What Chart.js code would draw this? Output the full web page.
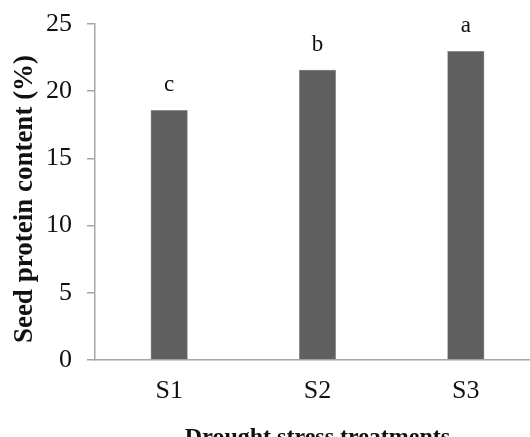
<!DOCTYPE html>
<html>
<head>
<meta charset="utf-8">
<script src="https://cdn.jsdelivr.net/npm/chart.js@4"></script>
<style>
  html, body { margin: 0; padding: 0; background: #fff; overflow: hidden; width: 530px; height: 437px; }
  #wrap { position: absolute; left: 0; top: 0; }
</style>
</head>
<body>
<div id="wrap"><canvas id="c" width="540" height="452"></canvas></div>
<script>
const categories = ["S1", "S2", "S3"];
const proteinValues = [18.6, 21.6, 23.0];
const significanceLetters = ["c", "b", "a"];
const yTicks = [0, 5, 10, 15, 20, 25];
const yTitle = "Seed protein content (%)";
const xTitle = "Drought stress treatments";

const FONT = "'Liberation Serif', 'Times New Roman', serif";
const AXIS = "#a6a6a6";

const lettersPlugin = {
  id: 'letters',
  afterDatasetsDraw(chart) {
    const ctx = chart.ctx;
    const meta = chart.getDatasetMeta(0);
    ctx.save();
    ctx.font = "23px " + FONT;
    ctx.fillStyle = "#111";
    ctx.textAlign = "center";
    ctx.textBaseline = "alphabetic";
    meta.data.forEach((bar, i) => {
      ctx.fillText(significanceLetters[i], bar.x, bar.y - 19);
    });
    // y-axis title
    ctx.font = "bold 27px " + FONT;
    ctx.textBaseline = "middle";
    ctx.translate(25, (chart.chartArea.top + chart.chartArea.bottom) / 2 + 7);
    ctx.rotate(-Math.PI / 2);
    ctx.fillText(yTitle, 0, 0);
    ctx.restore();
  }
};

new Chart(document.getElementById('c'), {
  type: 'bar',
  data: {
    labels: categories,
    datasets: [{
      data: proteinValues,
      backgroundColor: "#5f5f5f",
      borderColor: "#7a7a7a",
      borderWidth: 0.5,
      barPercentage: 0.25,
      categoryPercentage: 1.0
    }]
  },
  options: {
    responsive: false,
    animation: false,
    devicePixelRatio: 1,
    layout: { padding: { top: 24, left: 0, right: 0, bottom: 0 } },
    plugins: { legend: { display: false }, tooltip: { enabled: false } },
    scales: {
      x: {
        grid: { display: false, drawTicks: false },
        border: { display: true, color: AXIS, width: 1.5 },
        ticks: { color: "#111", font: { family: FONT, size: 26 }, padding: 16 },
        title: {
          display: true,
          text: xTitle,
          color: "#111",
          font: { family: FONT, size: 24, weight: "bold" },
          padding: { top: 0, bottom: 0 }
        },
        afterFit(s) { s.height = 452 - 360; s.paddingLeft = 0; s.paddingRight = 0; }
      },
      y: {
        min: 0, max: 25,
        afterBuildTicks(s) { s.ticks = yTicks.map(v => ({ value: v })); },
        grid: { display: true, drawOnChartArea: false, drawTicks: true, tickLength: 8, color: AXIS, lineWidth: 1.5 },
        border: { display: true, color: AXIS, width: 1.5 },
        ticks: { color: "#111", font: { family: FONT, size: 26 }, padding: 15 },
        title: { display: false },
        afterFit(s) { s.width = 95; s.paddingTop = 0; s.paddingBottom = 0; }
      }
    }
  },
  plugins: [lettersPlugin]
});
</script>
</body>
</html>
